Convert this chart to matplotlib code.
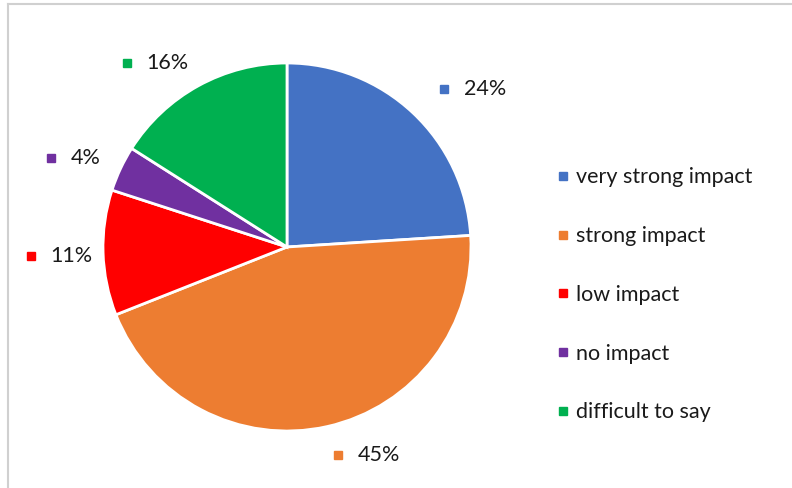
import numpy as np
import matplotlib.pyplot as plt
from matplotlib.lines import Line2D
from matplotlib import transforms

categories = ['very strong impact', 'strong impact', 'low impact', 'no impact', 'difficult to say']
shares = [24, 45, 11, 4, 16]
colors = ['#4472C4', '#ED7D31', '#FF0000', '#7030A0', '#00B050']

# label placement tweaks (angle nudge in degrees, distance in radii)
label_nudge = [-3.4, 3.7, 0.3, 3.6, 10.5]
label_dist = [1.25, 1.18, 1.34, 1.32, 1.29]

plt.rcParams['font.family'] = ['Lato', 'DejaVu Sans']
fs = 15.5

W, H = 792, 488
fig = plt.figure(figsize=(W / 100, H / 100), dpi=100)

# pie centre and radius in pixels
cx, cy, r = 287, H - 247, 184
ax = fig.add_axes([(cx - r) / W, (cy - r) / H, 2 * r / W, 2 * r / H])
wedges, _ = ax.pie(shares, colors=colors, startangle=90, counterclock=False,
                   wedgeprops=dict(edgecolor='white', linewidth=2))
ax.set_xlim(-1, 1)
ax.set_ylim(-1, 1)
ax.set_aspect('equal')
ax.axis('off')

for w, val, col, nud, d in zip(wedges, shares, colors, label_nudge, label_dist):
    ang = np.deg2rad((w.theta1 + w.theta2) / 2 + nud)
    x, y = d * np.cos(ang), d * np.sin(ang)
    mtr = transforms.offset_copy(ax.transData, fig=fig, x=-10, y=0, units='dots')
    ax.plot([x], [y], marker='s', ms=6, color=col, transform=mtr, clip_on=False)
    ttr = transforms.offset_copy(ax.transData, fig=fig, x=10, y=0, units='dots')
    ax.text(x, y, f'{val}%', transform=ttr, ha='left', va='center',
            fontsize=fs, color='#1a1a1a')

handles = [Line2D([], [], marker='s', ls='', color=c, ms=6) for c in colors]
fig.legend(handles, categories, loc='upper left',
           bbox_to_anchor=(535 / W, 1 - 148 / H), frameon=False,
           fontsize=fs, labelspacing=1.8, handletextpad=0.2,
           handlelength=0.8, labelcolor='#1a1a1a')

# chart border (top and left edges visible)
fig.add_artist(Line2D([8 / W, 1], [1 - 4 / H, 1 - 4 / H], color='#d0d0d0', lw=1.5))
fig.add_artist(Line2D([8 / W, 8 / W], [0, 1 - 4 / H], color='#d0d0d0', lw=1.5))

fig.savefig('out.png', dpi=100, facecolor='white')
